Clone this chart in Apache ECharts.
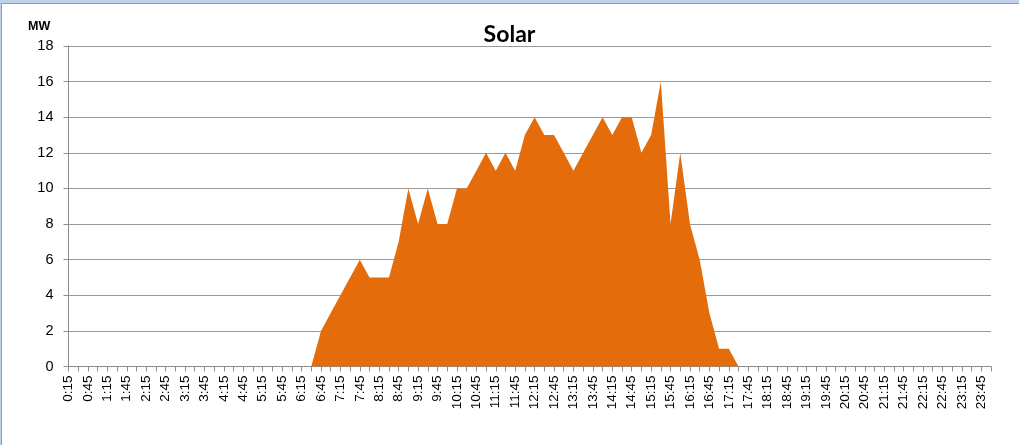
<!DOCTYPE html>
<html>
<head>
<meta charset="utf-8">
<script src="https://cdn.jsdelivr.net/npm/echarts@6/dist/echarts.min.js"></script>
<style>
html,body{margin:0;padding:0;background:#fff;}
#chart{position:absolute;left:0;top:0;width:1019px;height:445px;}
.f{position:absolute;pointer-events:none;}
</style>
</head>
<body>
<div id="chart"></div>
<div class="f" style="left:0;top:0;width:1019px;height:3px;background:#bfd1ea;"></div>
<div class="f" style="left:0;top:3px;width:1019px;height:1px;background:#9c9c9c;"></div>
<div class="f" style="left:0;top:0;width:1px;height:445px;background:#bfd1ea;"></div>
<div class="f" style="left:1px;top:3px;width:1px;height:442px;background:#9c9c9c;"></div>
<script>
const chartTitle = 'Solar';
const unitLabel = 'MW';
const times = [
  '0:15','0:30','0:45','1:00','1:15','1:30','1:45','2:00','2:15','2:30','2:45','3:00',
  '3:15','3:30','3:45','4:00','4:15','4:30','4:45','5:00','5:15','5:30','5:45','6:00',
  '6:15','6:30','6:45','7:00','7:15','7:30','7:45','8:00','8:15','8:30','8:45','9:00',
  '9:15','9:30','9:45','10:00','10:15','10:30','10:45','11:00','11:15','11:30','11:45','12:00',
  '12:15','12:30','12:45','13:00','13:15','13:30','13:45','14:00','14:15','14:30','14:45','15:00',
  '15:15','15:30','15:45','16:00','16:15','16:30','16:45','17:00','17:15','17:30','17:45','18:00',
  '18:15','18:30','18:45','19:00','19:15','19:30','19:45','20:00','20:15','20:30','20:45','21:00',
  '21:15','21:30','21:45','22:00','22:15','22:30','22:45','23:00','23:15','23:30','23:45','0:00'
];
const solarMW = [
  0,0,0,0,0,0,0,0,0,0,0,0,
  0,0,0,0,0,0,0,0,0,0,0,0,
  0,0,2,3,4,5,6,5,5,5,7,10,
  8,10,8,8,10,10,11,12,11,12,11,13,
  14,13,13,12,11,12,13,14,13,14,14,12,
  13,16,8,12,8,6,3,1,1,0,0,0,
  0,0,0,0,0,0,0,0,0,0,0,0,
  0,0,0,0,0,0,0,0,0,0,0,0
];
const yTicks = {min:0, max:18, interval:2};

const chart = echarts.init(document.getElementById('chart'), null, {renderer:'canvas'});
chart.setOption({
  animation:false,
  backgroundColor:'#ffffff',
  title:[
    {text:chartTitle, left:'center', top:18,
     textStyle:{fontFamily:'Lato', fontWeight:'bold', fontSize:23, color:'#000'}},
    {text:unitLabel, left:23, top:15,
     textStyle:{fontFamily:'Liberation Sans', fontWeight:'bold', fontSize:12.5, color:'#000'}}
  ],
  grid:{left:68.5, right:28, top:46, bottom:78.5, containLabel:false},
  xAxis:{
    type:'category',
    data:times,
    boundaryGap:false,
    axisLine:{lineStyle:{color:'#8c8c8c', width:1}},
    axisTick:{show:true, interval:0, length:5, lineStyle:{color:'#8c8c8c'}},
    axisLabel:{interval:1, rotate:90, margin:9, color:'#000',
      fontFamily:'Liberation Sans', fontSize:13.5},
    splitLine:{show:false}
  },
  yAxis:{
    type:'value',
    min:yTicks.min, max:yTicks.max, interval:yTicks.interval,
    axisLine:{show:true, lineStyle:{color:'#8c8c8c', width:1}},
    axisTick:{show:true, length:5, lineStyle:{color:'#8c8c8c'}},
    axisLabel:{margin:15, color:'#000', fontFamily:'Liberation Sans', fontSize:14.5},
    splitLine:{show:true, lineStyle:{color:'#9a9a9a', width:1.2}}
  },
  series:[{
    type:'line',
    data:solarMW,
    showSymbol:false,
    symbol:'none',
    lineStyle:{width:0},
    areaStyle:{color:'#e46c0a', opacity:1},
    itemStyle:{color:'#e46c0a'}
  }]
});
</script>
</body>
</html>
